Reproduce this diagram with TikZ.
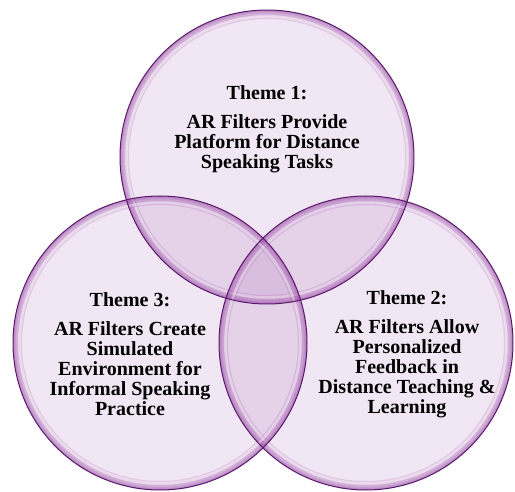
\documentclass[tikz,border=0pt]{standalone}
\usepackage{fontspec}
\setmainfont{Liberation Serif}
\usetikzlibrary{positioning}
\definecolor{petal}{HTML}{9B4FA8}
\definecolor{rim}{HTML}{5A1A6B}

\begin{document}
\begin{tikzpicture}[x=1pt, y=-1pt,
  bubble/.style={circle, minimum size=294pt, inner sep=0pt, fill=petal, fill opacity=0.14},
  theme/.style={align=center, font=\bfseries\fontsize{20}{20}\selectfont, text=black},
]
\useasboundingbox (0,0) rectangle (515,492);
\node[bubble] (c1) at (267,157) {};
\node[bubble] (c3) at (160,343) {};
\node[bubble] (c2) at (366,343) {};
% glow along the rims, fading inwards, with a pale sheen just inside
\foreach \c in {c1,c2,c3} {
  \begin{scope}
    \clip (\c.center) circle[radius=147];
    \foreach \w in {18,10,6,3}
      \draw[petal, line width=\w pt, draw opacity=0.2] (\c.center) circle[radius=147];
    \draw[white, line width=2.5pt, draw opacity=0.35] (\c.center) circle[radius=140.5];
  \end{scope}
}
\foreach \c in {c1,c2,c3}
  \draw[rim, line width=1pt] (\c.center) circle[radius=147];
\node[theme] (lab1) at (267,129) {Theme 1:\\[9pt]AR Filters Provide\\Platform for Distance\\Speaking Tasks};
\node[theme] (lab2) at (407,354) {Theme 2:\\[9pt]AR Filters Allow\\Personalized\\Feedback in\\Distance Teaching \&\\Learning};
\node[theme] (lab3) at (130,354) {Theme 3:\\[9pt]AR Filters Create\\Simulated\\Environment for\\Informal Speaking\\Practice};
\end{tikzpicture}
\end{document}
